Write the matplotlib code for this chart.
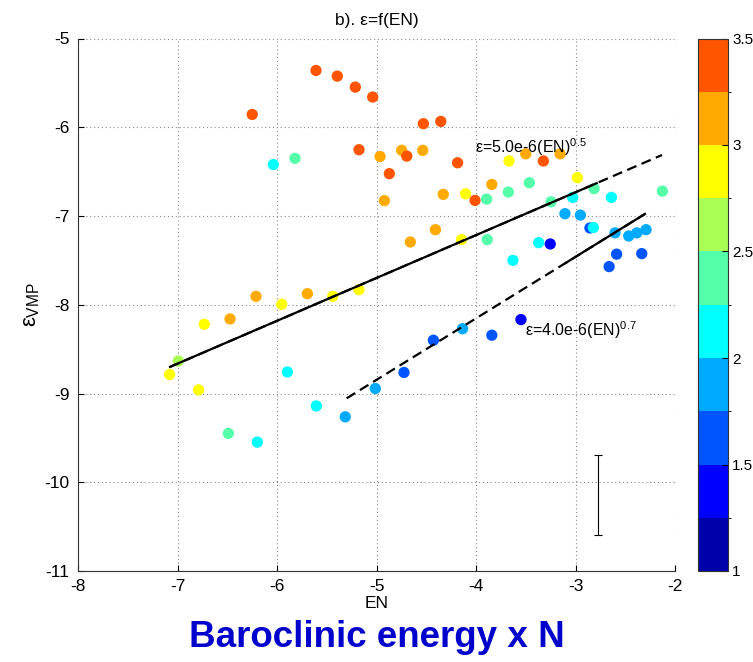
import numpy as np
import matplotlib
matplotlib.use('Agg')
import matplotlib.pyplot as plt
from matplotlib.colors import ListedColormap, BoundaryNorm

plt.rcParams['font.family'] = ['Liberation Sans', 'DejaVu Sans']
plt.rcParams['mathtext.fontset'] = 'custom'
plt.rcParams['mathtext.rm'] = 'Liberation Sans'
plt.rcParams['mathtext.it'] = 'Liberation Sans'
plt.rcParams['axes.unicode_minus'] = False

# scatter data: EN, eps_VMP, colour value
en = [-6.249, -5.608, -5.394, -5.213, -5.038, -4.529, -4.354, -5.176, -4.696,
      -4.185, -4.871, -4.010, -3.323,
      -4.964, -4.747, -4.535, -4.921, -4.329, -4.408, -4.660, -5.695, -6.211,
      -6.472, -3.841, -3.500, -3.155,
      -4.104, -5.176, -5.440, -5.953, -6.731, -7.079, -6.788, -2.981, -4.145,
      -3.668,
      -6.992,
      -5.819, -6.489, -3.893, -3.675, -3.464, -2.813, -3.246, -2.127, -3.887,
      -6.037, -5.896, -6.198, -5.605, -3.028, -2.639, -2.820, -3.370, -3.629,
      -5.314, -5.012, -3.106, -2.951, -2.603, -2.465, -2.384, -2.291, -4.135,
      -4.724, -4.428, -2.855, -2.587, -2.334, -2.662, -3.841,
      -3.254, -3.548]
eps = [-5.856, -5.360, -5.424, -5.548, -5.660, -5.960, -5.934, -6.253, -6.325,
       -6.400, -6.523, -6.824, -6.380,
       -6.330, -6.260, -6.260, -6.827, -6.756, -7.154, -7.293, -7.875, -7.905,
       -8.160, -6.644, -6.300, -6.300,
       -6.750, -7.830, -7.905, -7.995, -8.220, -8.786, -8.959, -6.568, -7.266,
       -6.380,
       -8.633,
       -6.350, -9.450, -6.810, -6.730, -6.625, -6.692, -6.840, -6.720, -7.266,
       -6.420, -8.757, -9.548, -9.140, -6.790, -6.790, -7.130, -7.300, -7.500,
       -9.263, -8.944, -6.974, -6.990, -7.190, -7.225, -7.190, -7.154, -8.270,
       -8.763, -8.400, -7.135, -7.430, -7.424, -7.570, -8.343,
       -7.315, -8.167]
val = [3.4] * 13 + [3.1] * 13 + [2.9] * 10 + [2.6] + [2.4] * 9 + [2.1] * 9 \
    + [1.9] * 9 + [1.6] * 7 + [1.4] * 2

# fit lines (end points) and the part drawn solid
fit1_x = [-7.075, -2.131]
fit1_y = [-8.700, -6.313]
fit1_solid_x = [-7.075, -2.787]
fit1_solid_y = [-8.700, -6.630]
fit2_x = [-5.300, -2.302]
fit2_y = [-9.054, -6.977]
fit2_solid_x = [-3.100, -2.302]
fit2_solid_y = [-7.530, -6.977]

# typical error bar
err_x = [-2.774]
err_y = [-10.14]
err_h = [0.45]

levels = [1.0, 1.25, 1.5, 1.75, 2.0, 2.25, 2.5, 2.75, 3.0, 3.25, 3.5]
colors = ['#0000AA', '#0000FF', '#0055FF', '#00AAFF', '#00FFFF',
          '#55FFAA', '#AAFF55', '#FFFF00', '#FFAA00', '#FF5500']
cmap = ListedColormap(colors)
norm = BoundaryNorm(levels, cmap.N)

# draw low values last so they sit on top where points overlap
order = np.argsort(val, kind='stable')
en_a = np.array(en)[order]
eps_a = np.array(eps)[order]
val_a = np.array(val)[order]

fig = plt.figure(figsize=(7.53, 6.62), dpi=100)
ax = fig.add_axes([78 / 753, 1 - 571 / 662, 597 / 753, 532.5 / 662])
cax = fig.add_axes([698 / 753, 1 - 571 / 662, 30 / 753, 532.5 / 662])

sc = ax.scatter(en_a, eps_a, c=val_a, cmap=cmap, norm=norm, s=66,
                edgecolors='none', zorder=3)

ax.plot(fit1_x, fit1_y, color='black', lw=1.6, ls=(0, (4.5, 2.5)), zorder=4)
ax.plot(fit1_solid_x, fit1_solid_y, color='black', lw=1.6, zorder=4)
ax.plot(fit2_x, fit2_y, color='black', lw=1.6, ls=(0, (4.5, 2.5)), zorder=4)
ax.plot(fit2_solid_x, fit2_solid_y, color='black', lw=1.6, zorder=4)

ax.errorbar(err_x, err_y, yerr=err_h, fmt='none', ecolor='black',
            elinewidth=0.8, capsize=3, capthick=0.8, zorder=4)

ax.text(-4.010, -6.224, r'ε=5.0e-6(EN)$^{0.5}$', fontsize=11.5, va='center',
        ha='left', zorder=5)
ax.text(-3.508, -8.287, r'ε=4.0e-6(EN)$^{0.7}$', fontsize=11.5, va='center',
        ha='left', zorder=5)

ax.set_xlim(-8, -2)
ax.set_ylim(-11, -5)
ax.set_xticks(np.arange(-8, -1, 1))
ax.set_yticks(np.arange(-11, -4, 1))
ax.grid(True, ls=(0, (1, 2.5)), color='#888888', lw=0.8)
ax.set_axisbelow(True)
for side in ['top', 'right']:
    ax.spines[side].set_visible(False)
for side in ['left', 'bottom']:
    ax.spines[side].set_color('#333333')
ax.tick_params(direction='in', length=4, labelsize=12.5, pad=6)

ax.set_title('b). ε=f(EN)', fontsize=12.5, pad=10)
ax.set_xlabel('EN', fontsize=12.5, labelpad=1)
ax.set_ylabel(r'$ε_{\mathrm{VMP}}$', fontsize=16, labelpad=2)

cb = fig.colorbar(sc, cax=cax, ticks=[1, 1.5, 2, 2.5, 3, 3.5])
cb.ax.set_yticklabels(['1', '1.5', '2', '2.5', '3', '3.5'])
cb.ax.tick_params(direction='in', length=4, labelsize=11, pad=3)
cb.outline.set_edgecolor('#333333')

fig.text(0.5, 0.037, 'Baroclinic energy x N', fontsize=26.5, fontweight='bold',
         color='#0000CC', ha='center', va='center')

fig.savefig('out.png', dpi=100)
